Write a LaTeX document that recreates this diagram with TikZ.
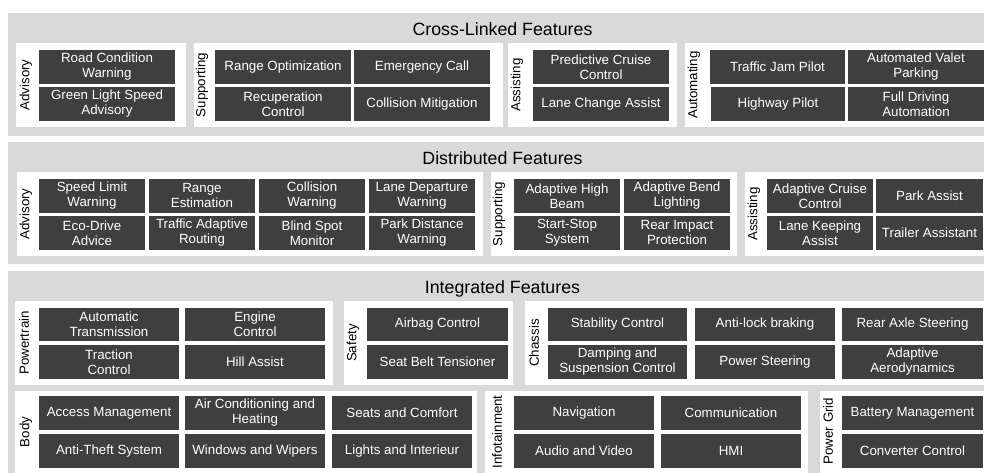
\documentclass[tikz,border=0pt]{standalone}
\usepackage{fontspec}
\setmainfont{Liberation Sans}
\definecolor{bandgray}{HTML}{D9D9D9}
\definecolor{darkbox}{HTML}{3F3F3F}
\tikzset{
  band/.style={fill=bandgray, draw=none},
  panel/.style={fill=white, draw=none},
  feat/.style={fill=darkbox, draw=none, text=white, inner sep=0pt, outer sep=0pt,
    align=center, font=\fontsize{13.33}{15}\selectfont},
  grp/.style={rotate=90, font=\fontsize{13.33}{15}\selectfont, inner sep=0pt, text=black},
  ttl/.style={font=\fontsize{17.78}{20}\selectfont, anchor=base, inner sep=0pt, text=black},
}
\newcommand\featnode[6]{%
  \pgfmathsetmacro\fw{#4-#2}\pgfmathsetmacro\fh{#5-#3}%
  \node[feat, minimum width=\fw pt, minimum height=\fh pt] (#1) at ({(#2+#4)/2},{(#3+#5)/2}) {#6};}
\begin{document}
\begin{tikzpicture}[x=1pt,y=-1pt]
\useasboundingbox (0,0) rectangle (984,472);
\clip (0,0) rectangle (984,472);
% bands
\fill[band] (8,13) rectangle (1000,136);
\fill[band] (8,142) rectangle (1000,264);
\fill[band] (8,271) rectangle (1000,480);
\node[ttl] (t1) at (502.5,35) {Cross-Linked Features};
\node[ttl] (t2) at (502.5,164) {Distributed Features};
\node[ttl] (t3) at (502.5,293) {Integrated Features};
% panels band 1
\fill[panel] (16,43) rectangle (186,127);
\fill[panel] (194,43) rectangle (502.5,127);
\fill[panel] (507.5,43) rectangle (677,127);
\fill[panel] (685,43) rectangle (1000,127);
% panels band 2
\fill[panel] (17,172) rectangle (483,256);
\fill[panel] (491,172) rectangle (737,256);
\fill[panel] (745,172) rectangle (1000,256);
% panels band 3
\fill[panel] (15,301) rectangle (333,385);
\fill[panel] (344,301) rectangle (513,385);
\fill[panel] (525,301) rectangle (1000,385);
\fill[panel] (15,391) rectangle (477,480);
\fill[panel] (485,391) rectangle (808,480);
\fill[panel] (820,391) rectangle (1000,480);
% group labels
\node[grp] (g1) at (26,85) {Advisory};
\node[grp] (g2) at (202,85) {Supporting};
\node[grp] (g3) at (517,85) {Assisting};
\node[grp] (g4) at (694,85) {Automating};
\node[grp] (g5) at (26,214) {Advisory};
\node[grp] (g6) at (499,214) {Supporting};
\node[grp] (g7) at (754,214) {Assisting};
\node[grp] (g8) at (24,343) {Powertrain};
\node[grp] (g9) at (353,343) {Safety};
\node[grp] (g10) at (534,343) {Chassis};
\node[grp] (g11) at (26,432) {Body};
\node[grp] (g12) at (497,432) {Infotainment};
\node[grp] (g13) at (828,431) {Power Grid};
% band 1 features
\featnode{a1}{39}{50}{175}{83.5}{Road Condition\\Warning}
\featnode{a2}{39}{87.2}{175}{120.7}{Green Light Speed\\Advisory}
\featnode{s1}{215}{50}{351}{83.5}{Range Optimization}
\featnode{s2}{354}{50}{490}{83.5}{Emergency Call}
\featnode{s3}{215}{87.2}{351}{120.7}{Recuperation\\Control}
\featnode{s4}{354}{87.2}{490}{120.7}{Collision Mitigation}
\featnode{as1}{533}{50}{669}{83.5}{Predictive Cruise\\Control}
\featnode{as2}{533}{87.2}{669}{120.7}{Lane Change Assist}
\featnode{au1}{710}{50}{845}{83.5}{Traffic Jam Pilot}
\featnode{au2}{848}{50}{984}{83.5}{Automated Valet\\Parking}
\featnode{au3}{711}{87.2}{845}{120.7}{Highway Pilot}
\featnode{au4}{848}{87.2}{984}{120.7}{Full Driving\\Automation}
% band 2 features
\featnode{d1}{39}{179}{145}{212.5}{Speed Limit\\Warning}
\featnode{d2}{149}{179}{255}{212.5}{Range\\Estimation}
\featnode{d3}{259}{179}{365}{212.5}{Collision\\Warning}
\featnode{d4}{369}{179}{475}{212.5}{Lane Departure\\Warning}
\featnode{d5}{39}{216.2}{145}{249.7}{Eco-Drive\\Advice}
\featnode{d6}{149}{216.2}{255}{249.7}{Traffic Adaptive\\Routing}
\featnode{d7}{259}{216.2}{365}{249.7}{Blind Spot\\Monitor}
\featnode{d8}{369}{216.2}{475}{249.7}{Park Distance\\Warning}
\featnode{d9}{514}{179}{620}{212.5}{Adaptive High\\Beam}
\featnode{d10}{624}{179}{730}{212.5}{Adaptive Bend\\Lighting}
\featnode{d11}{514}{216.2}{620}{249.7}{Start-Stop\\System}
\featnode{d12}{624}{216.2}{730}{249.7}{Rear Impact\\Protection}
\featnode{d13}{767}{179}{873}{212.5}{Adaptive Cruise\\Control}
\featnode{d14}{876}{179}{983}{212.5}{Park Assist}
\featnode{d15}{767}{216.2}{873}{249.7}{Lane Keeping\\Assist}
\featnode{d16}{876}{216.2}{983}{249.7}{Trailer Assistant}
% band 3 row A
\featnode{p1}{39}{307.5}{179}{341}{Automatic\\Transmission}
\featnode{p2}{185}{307.5}{325}{341}{Engine\\Control}
\featnode{p3}{39}{345}{179}{379}{Traction\\Control}
\featnode{p4}{185}{345}{325}{379}{Hill Assist}
\featnode{sf1}{367}{307.5}{508}{341}{Airbag Control}
\featnode{sf2}{367}{345}{508}{379}{Seat Belt Tensioner}
\featnode{c1}{548}{307.5}{687}{341}{Stability Control}
\featnode{c2}{695}{307.5}{835}{341}{Anti-lock braking}
\featnode{c3}{842}{307.5}{983}{341}{Rear Axle Steering}
\featnode{c4}{548}{345}{687}{379}{Damping and\\Suspension Control}
\featnode{c5}{695}{345}{835}{379}{Power Steering}
\featnode{c6}{842}{345}{983}{379}{Adaptive\\Aerodynamics}
% band 3 row B
\featnode{b1}{39}{396}{179}{430}{Access Management}
\featnode{b2}{185}{396}{325}{430}{Air Conditioning and\\Heating}
\featnode{b3}{332}{396}{472}{430}{Seats and Comfort}
\featnode{b4}{39}{434}{179}{468}{Anti-Theft System}
\featnode{b5}{185}{434}{325}{468}{Windows and Wipers}
\featnode{b6}{332}{434}{472}{468}{Lights and Interieur}
\featnode{i1}{514}{396}{654}{430}{Navigation}
\featnode{i2}{661}{396}{801}{430}{Communication}
\featnode{i3}{514}{434}{654}{468}{Audio and Video}
\featnode{i4}{661}{434}{801}{468}{HMI}
\featnode{pg1}{842}{396}{983}{430}{Battery Management}
\featnode{pg2}{842}{434}{983}{468}{Converter Control}
\end{tikzpicture}
\end{document}
